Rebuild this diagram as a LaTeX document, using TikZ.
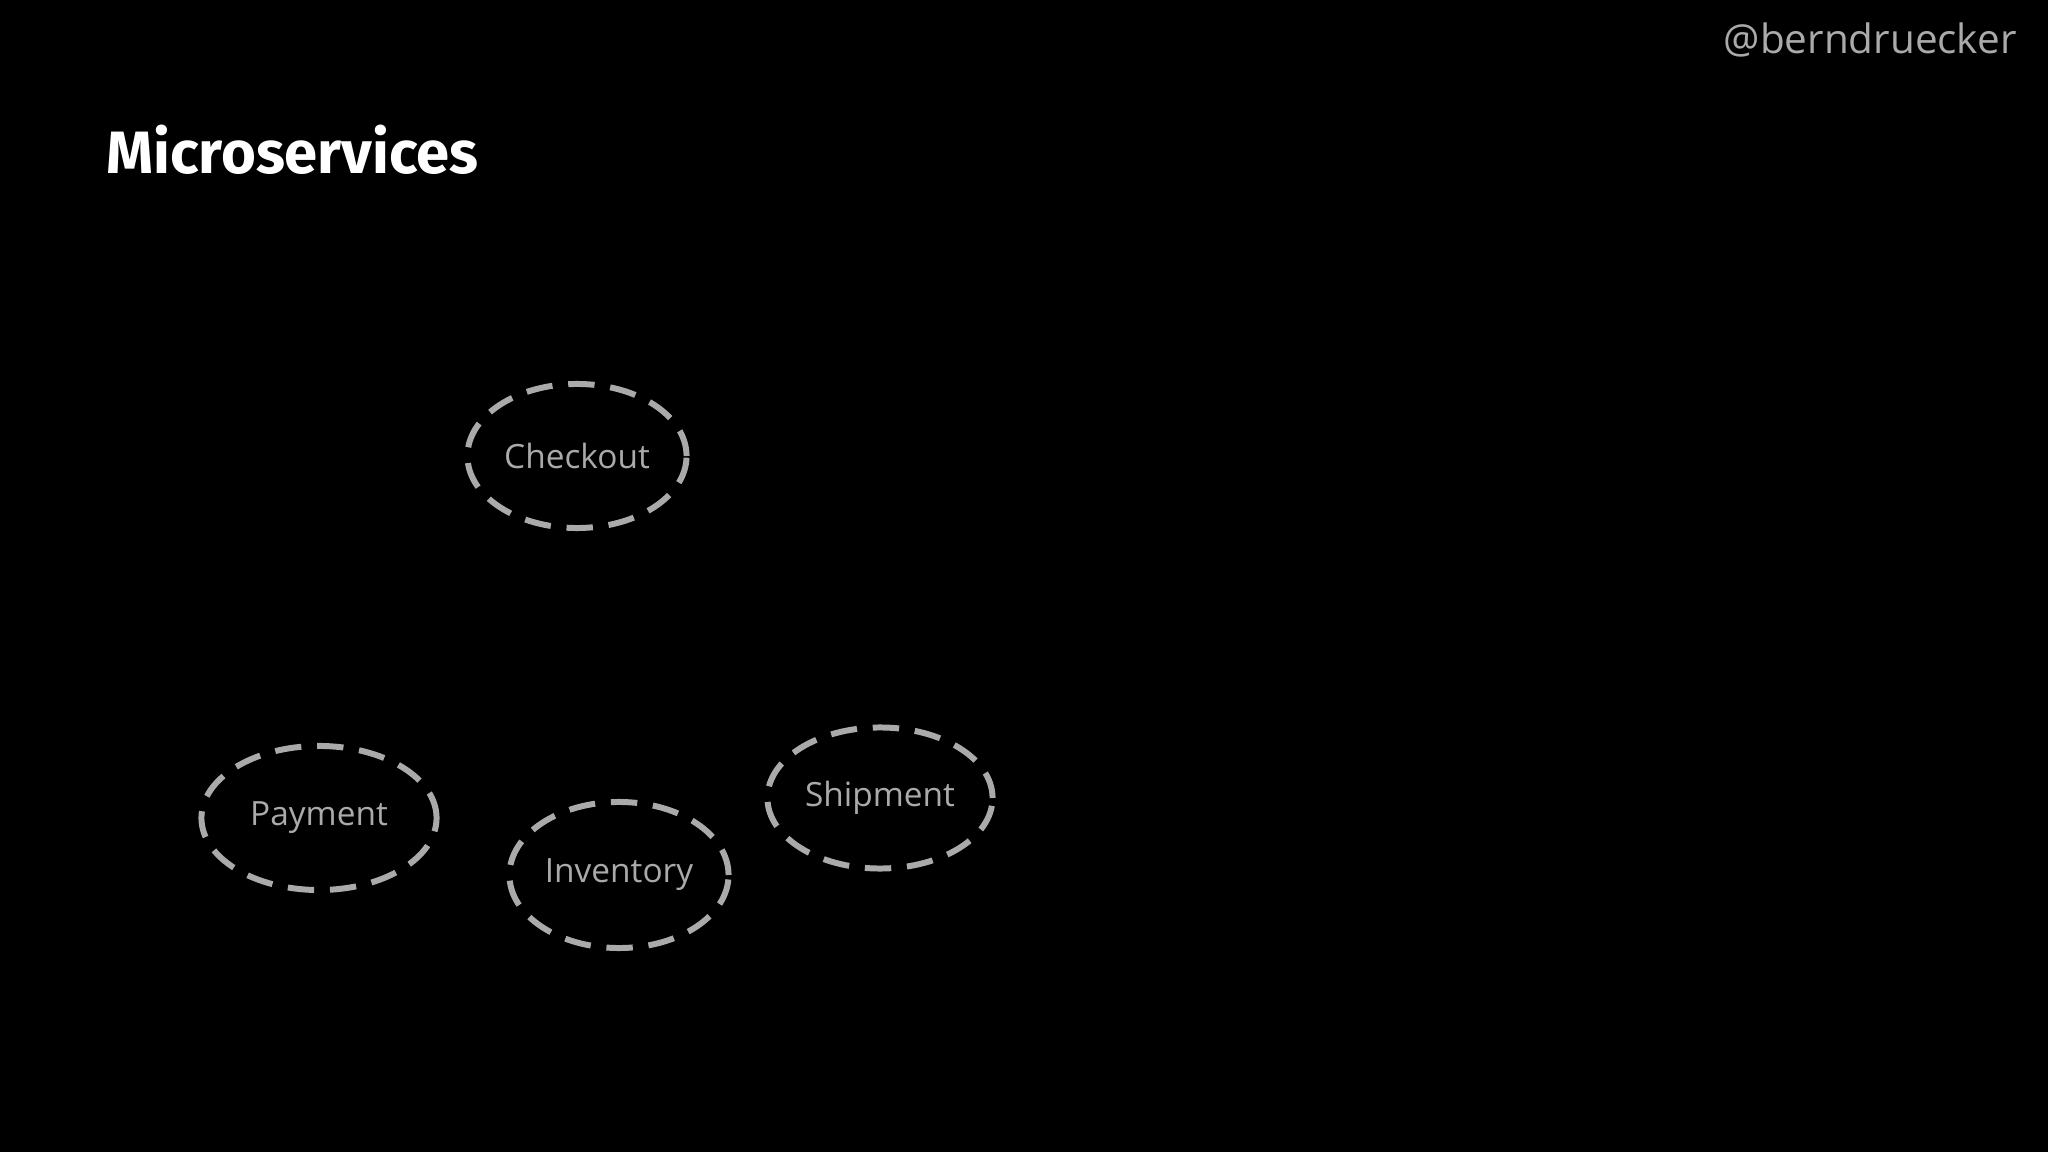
\documentclass[tikz,border=0pt]{standalone}
\usepackage{fontspec}
\setmainfont{Open Sans}
\newfontfamily\titlefont{Fira Sans}
\usetikzlibrary{shapes.geometric}
\definecolor{svc}{RGB}{170,170,170}
\begin{document}
\begin{tikzpicture}[x=0.01cm,y=-0.01cm,
  svcnode/.style={ellipse,draw=svc,line width=1.7pt,dash pattern=on 7.5pt off 4.5pt,
    text=svc,font=\fontsize{9.5}{11}\selectfont,inner sep=0pt}]
\fill[black] (0,0) rectangle (2048,1152);
\useasboundingbox (0,0) rectangle (2048,1152);
\node[anchor=east,text=svc,font=\fontsize{11.5}{13}\selectfont] (handle) at (2029,40) {@berndruecker};
\node[anchor=west,text=white,font=\titlefont\bfseries\fontsize{17}{20}\selectfont] (title) at (94,150) {Microservices};
\node[svcnode,minimum width=2.19cm,minimum height=1.44cm] (checkout) at (577,456) {Checkout};
\node[svcnode,minimum width=2.35cm,minimum height=1.44cm] (payment) at (319,818) {Payment};
\node[svcnode,minimum width=2.19cm,minimum height=1.46cm] (inventory) at (619,875) {Inventory};
\node[svcnode,minimum width=2.25cm,minimum height=1.41cm] (shipment) at (880,798) {Shipment};
\end{tikzpicture}
\end{document}
